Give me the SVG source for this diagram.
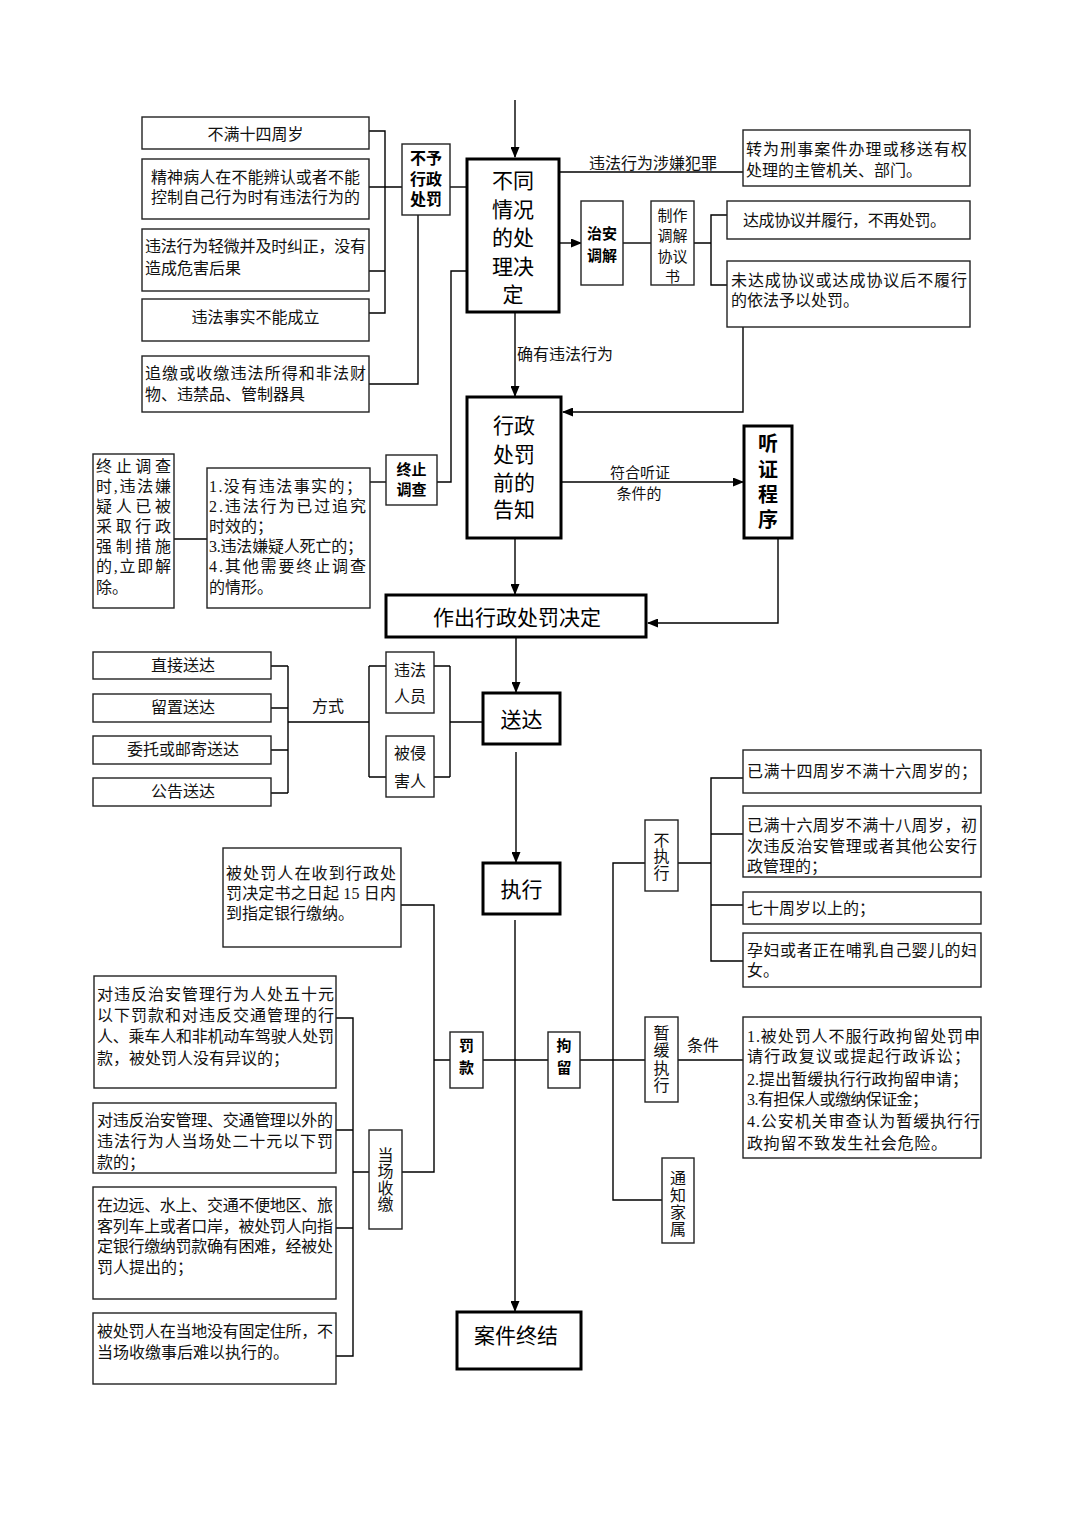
<svg xmlns="http://www.w3.org/2000/svg" width="1074" height="1520" viewBox="0 0 1074 1520">
<defs>
<marker id="ar" markerUnits="userSpaceOnUse" markerWidth="11" markerHeight="9" refX="10" refY="4.5" orient="auto">
<path d="M0,0 L11,4.5 L0,9 z" fill="#000"/>
</marker>
<style>
.bx{fill:#fff;stroke:#222;stroke-width:1.4}
.bk{fill:#fff;stroke:#000;stroke-width:3}
.ln{fill:none;stroke:#000;stroke-width:1.4}
.ar{fill:none;stroke:#000;stroke-width:1.4;marker-end:url(#ar)}
.t{font-family:"Liberation Serif","Noto Sans CJK SC",serif;font-size:16px;fill:#111}
.c{text-anchor:middle}
.b{font-family:"Liberation Sans","Noto Sans CJK SC",sans-serif;font-size:15px;font-weight:bold;fill:#000;text-anchor:middle}
.h{font-family:"Liberation Sans","Noto Sans CJK SC",sans-serif;font-size:21px;fill:#000;text-anchor:middle}
</style>
</defs>
<rect width="1074" height="1520" fill="#fff"/>

<g id="connectors">
<path class="ar" d="M515,100 V157"/>
<path class="ln" d="M369,131 H385 V313 H369 M369,187 H402 M369,271 H385"/>
<path class="ln" d="M450,187 H467"/>
<path class="ln" d="M418,215 V384 H369"/>
<path class="ln" d="M467,271 H451 V482 H437"/>
<path class="ln" d="M370,482 H386"/>
<path class="ln" d="M174,539 H207"/>
<path class="ln" d="M559,172 H743"/>
<path class="ar" d="M559,243 H581"/>
<path class="ln" d="M623,243 H651"/>
<path class="ln" d="M694,243 H711 M727,215 H711 V285 H727"/>
<path class="ar" d="M743,327 V412 H563"/>
<path class="ar" d="M515,312 V396"/>
<path class="ar" d="M561,482 H743"/>
<path class="ar" d="M515,538 V594"/>
<path class="ar" d="M778,538 V623 H648"/>
<path class="ar" d="M516,637 V692"/>
<path class="ln" d="M271,666 H288 M271,708 H288 M271,750 H288 M271,793 H288 M288,666 V793 M288,722 H369 M369,666 V777 M369,666 H386 M369,777 H386 M434,666 H450 M434,777 H450 M450,666 V777 M450,722 H483"/>
<path class="ar" d="M516,752 V862"/>
<path class="ar" d="M515,920 V1311"/>
<path class="ln" d="M401,905 H434 V1172 H402"/>
<path class="ln" d="M434,1060 H450 M483,1060 H548 M580,1060 H645"/>
<path class="ln" d="M336,1018 H353 V1356 H336 M336,1130 H353 M336,1228 H353 M353,1172 H369"/>
<path class="ln" d="M645,863 H613 V1200 H662"/>
<path class="ln" d="M678,863 H711 M743,778 H711 V961 H743 M711,834 H743 M711,905 H743"/>
<path class="ln" d="M678,1060 H743"/>
</g>

<g id="lbl-crime"><text class="t c" x="653" y="169">违法行为涉嫌犯罪</text></g>
<g id="lbl-confirm"><text class="t" x="517" y="360" font-size="15">确有违法行为</text></g>
<g id="lbl-hearing"><text class="t c" x="640" y="478" style="font-size:15px">符合听证</text><text class="t c" x="639" y="499" style="font-size:15px">条件的</text></g>
<g id="lbl-way"><text class="t c" x="328" y="712">方式</text></g>
<g id="lbl-cond"><text class="t c" x="703" y="1051">条件</text></g>

<g id="n-age14"><rect class="bx" x="142" y="117" width="227" height="32"/><text class="t c" x="255.5" y="140">不满十四周岁</text></g>
<g id="n-mental"><rect class="bx" x="142" y="159" width="227" height="60"/><text class="t" x="151" y="183" textLength="209" lengthAdjust="spacing">精神病人在不能辨认或者不能</text><text class="t" x="151" y="203" textLength="209" lengthAdjust="spacing">控制自己行为时有违法行为的</text></g>
<g id="n-minor"><rect class="bx" x="142" y="229" width="227" height="62"/><text class="t" x="145" y="252" textLength="221" lengthAdjust="spacing">违法行为轻微并及时纠正，没有</text><text class="t" x="145" y="274">造成危害后果</text></g>
<g id="n-nofact"><rect class="bx" x="142" y="299" width="227" height="42"/><text class="t c" x="255.5" y="323">违法事实不能成立</text></g>
<g id="n-confiscate"><rect class="bx" x="142" y="356" width="227" height="56"/><text class="t" x="145" y="379" textLength="221" lengthAdjust="spacing">追缴或收缴违法所得和非法财</text><text class="t" x="145" y="400">物、违禁品、管制器具</text></g>
<g id="n-nopunish"><rect class="bx" x="402" y="144" width="48" height="71"/><text class="b" x="426" y="164" style="font-size:16px">不予</text><text class="b" x="426" y="185" style="font-size:16px">行政</text><text class="b" x="426" y="205" style="font-size:16px">处罚</text></g>
<g id="n-decide"><rect class="bk" x="467" y="159" width="92" height="153"/><text class="h" x="513" y="188">不同</text><text class="h" x="513" y="217">情况</text><text class="h" x="513" y="245">的处</text><text class="h" x="513" y="274">理决</text><text class="h" x="513" y="302">定</text></g>
<g id="n-transfer"><rect class="bx" x="743" y="130" width="227" height="56"/><text class="t" x="746" y="155" textLength="221" lengthAdjust="spacing">转为刑事案件办理或移送有权</text><text class="t" x="746" y="176">处理的主管机关、部门。</text></g>
<g id="n-mediate"><rect class="bx" x="581" y="201" width="42" height="84"/><text class="b" x="602" y="239">治安</text><text class="b" x="602" y="261">调解</text></g>
<g id="n-agreement"><rect class="bx" x="651" y="201" width="43" height="84"/><text class="t c" x="672.5" y="221" style="font-size:15px">制作</text><text class="t c" x="672.5" y="241" style="font-size:15px">调解</text><text class="t c" x="672.5" y="262" style="font-size:15px">协议</text><text class="t c" x="672.5" y="282" style="font-size:15px">书</text></g>
<g id="n-agreed"><rect class="bx" x="727" y="201" width="243" height="38"/><text class="t" x="743" y="226" textLength="203" lengthAdjust="spacing">达成协议并履行，不再处罚。</text></g>
<g id="n-notagreed"><rect class="bx" x="727" y="261" width="243" height="66"/><text class="t" x="731" y="286" textLength="236" lengthAdjust="spacing">未达成协议或达成协议后不履行</text><text class="t" x="731" y="306">的依法予以处罚。</text></g>
<g id="n-notice"><rect class="bk" x="467" y="397" width="94" height="141"/><text class="h" x="514" y="433">行政</text><text class="h" x="514" y="462">处罚</text><text class="h" x="514" y="490">前的</text><text class="h" x="514" y="517">告知</text></g>
<g id="n-stop"><rect class="bx" x="386" y="455" width="51" height="50"/><text class="b" x="411.5" y="475">终止</text><text class="b" x="411.5" y="495">调查</text></g>
<g id="n-stopreasons"><rect class="bx" x="207" y="468" width="163" height="140"/><text class="t" x="209" y="492" textLength="153" lengthAdjust="spacing">1.没有违法事实的；</text><text class="t" x="209" y="512" textLength="157" lengthAdjust="spacing">2.违法行为已过追究</text><text class="t" x="209" y="532">时效的；</text><text class="t" x="209" y="552" textLength="154" lengthAdjust="spacing">3.违法嫌疑人死亡的；</text><text class="t" x="209" y="572" textLength="157" lengthAdjust="spacing">4.其他需要终止调查</text><text class="t" x="209" y="593">的情形。</text></g>
<g id="n-release"><rect class="bx" x="93" y="454" width="81" height="154"/><text class="t" x="96" y="472" textLength="75" lengthAdjust="spacing">终止调查</text><text class="t" x="96" y="492" textLength="75" lengthAdjust="spacing">时,违法嫌</text><text class="t" x="96" y="512" textLength="75" lengthAdjust="spacing">疑人已被</text><text class="t" x="96" y="532" textLength="75" lengthAdjust="spacing">采取行政</text><text class="t" x="96" y="552" textLength="75" lengthAdjust="spacing">强制措施</text><text class="t" x="96" y="572" textLength="75" lengthAdjust="spacing">的,立即解</text><text class="t" x="96" y="593">除。</text></g>
<g id="n-hearing"><rect class="bk" x="744" y="426" width="48" height="112"/><text class="b" x="768" y="451" style="font-size:20px">听</text><text class="b" x="768" y="477" style="font-size:20px">证</text><text class="b" x="768" y="502" style="font-size:20px">程</text><text class="b" x="768" y="527" style="font-size:20px">序</text></g>
<g id="n-make"><rect class="bk" x="386" y="595" width="260" height="42"/><text class="h" x="517" y="625">作出行政处罚决定</text></g>
<g id="n-direct"><rect class="bx" x="93" y="652" width="178" height="27"/><text class="t c" x="183" y="671">直接送达</text></g>
<g id="n-leave"><rect class="bx" x="93" y="694" width="178" height="28"/><text class="t c" x="183" y="713">留置送达</text></g>
<g id="n-mail"><rect class="bx" x="93" y="736" width="178" height="28"/><text class="t c" x="183" y="755">委托或邮寄送达</text></g>
<g id="n-public"><rect class="bx" x="93" y="778" width="178" height="28"/><text class="t c" x="183" y="797">公告送达</text></g>
<g id="n-offender"><rect class="bx" x="386" y="652" width="48" height="61"/><text class="t c" x="410" y="676">违法</text><text class="t c" x="410" y="702">人员</text></g>
<g id="n-victim"><rect class="bx" x="386" y="736" width="48" height="61"/><text class="t c" x="410" y="759">被侵</text><text class="t c" x="410" y="787">害人</text></g>
<g id="n-deliver"><rect class="bk" x="483" y="693" width="77" height="51"/><text class="h" x="521.5" y="727">送达</text></g>
<g id="n-execute"><rect class="bk" x="483" y="863" width="77" height="51"/><text class="h" x="521.5" y="897">执行</text></g>
<g id="n-bank"><rect class="bx" x="223" y="848" width="178" height="99"/><text class="t" x="226" y="879" textLength="170" lengthAdjust="spacing">被处罚人在收到行政处</text><text class="t" x="226" y="899" textLength="170" lengthAdjust="spacing">罚决定书之日起 15 日内</text><text class="t" x="226" y="919">到指定银行缴纳。</text></g>
<g id="n-fine"><rect class="bx" x="450" y="1032" width="33" height="56"/><text class="b" x="466.5" y="1051">罚</text><text class="b" x="466.5" y="1073">款</text></g>
<g id="n-detain"><rect class="bx" x="548" y="1032" width="32" height="56"/><text class="b" x="564" y="1051">拘</text><text class="b" x="564" y="1073">留</text></g>
<g id="n-f1"><rect class="bx" x="94" y="976" width="242" height="112"/><text class="t" x="97" y="1000" textLength="237" lengthAdjust="spacing">对违反治安管理行为人处五十元</text><text class="t" x="97" y="1021" textLength="237" lengthAdjust="spacing">以下罚款和对违反交通管理的行</text><text class="t" x="97" y="1042" textLength="237" lengthAdjust="spacing">人、乘车人和非机动车驾驶人处罚</text><text class="t" x="97" y="1064">款，被处罚人没有异议的；</text></g>
<g id="n-f2"><rect class="bx" x="93" y="1103" width="243" height="70"/><text class="t" x="97" y="1126" textLength="236" lengthAdjust="spacing">对违反治安管理、交通管理以外的</text><text class="t" x="97" y="1147" textLength="236" lengthAdjust="spacing">违法行为人当场处二十元以下罚</text><text class="t" x="97" y="1168">款的；</text></g>
<g id="n-f3"><rect class="bx" x="93" y="1187" width="243" height="112"/><text class="t" x="97" y="1211" textLength="236" lengthAdjust="spacing">在边远、水上、交通不便地区、旅</text><text class="t" x="97" y="1232" textLength="236" lengthAdjust="spacing">客列车上或者口岸，被处罚人向指</text><text class="t" x="97" y="1252" textLength="236" lengthAdjust="spacing">定银行缴纳罚款确有困难，经被处</text><text class="t" x="97" y="1273">罚人提出的；</text></g>
<g id="n-f4"><rect class="bx" x="93" y="1313" width="243" height="71"/><text class="t" x="97" y="1337" textLength="236" lengthAdjust="spacing">被处罚人在当地没有固定住所，不</text><text class="t" x="97" y="1358">当场收缴事后难以执行的。</text></g>
<g id="n-onsite"><rect class="bx" x="369" y="1130" width="33" height="99"/><text class="t c" x="385.5" y="1161">当</text><text class="t c" x="385.5" y="1177">场</text><text class="t c" x="385.5" y="1194">收</text><text class="t c" x="385.5" y="1210">缴</text></g>
<g id="n-end"><rect class="bk" x="457" y="1312" width="124" height="57"/><text class="h" x="516" y="1343">案件终结</text></g>
<g id="n-noexec"><rect class="bx" x="645" y="820" width="33" height="71"/><text class="t c" x="661.5" y="846">不</text><text class="t c" x="661.5" y="862">执</text><text class="t c" x="661.5" y="879">行</text></g>
<g id="n-e1"><rect class="bx" x="743" y="750" width="238" height="43"/><text class="t" x="747" y="777" textLength="230" lengthAdjust="spacing">已满十四周岁不满十六周岁的；</text></g>
<g id="n-e2"><rect class="bx" x="743" y="806" width="238" height="71"/><text class="t" x="747" y="831" textLength="230" lengthAdjust="spacing">已满十六周岁不满十八周岁，初</text><text class="t" x="747" y="852" textLength="230" lengthAdjust="spacing">次违反治安管理或者其他公安行</text><text class="t" x="747" y="872">政管理的；</text></g>
<g id="n-e3"><rect class="bx" x="743" y="892" width="238" height="32"/><text class="t" x="747" y="914">七十周岁以上的；</text></g>
<g id="n-e4"><rect class="bx" x="743" y="933" width="238" height="54"/><text class="t" x="747" y="956" textLength="230" lengthAdjust="spacing">孕妇或者正在哺乳自己婴儿的妇</text><text class="t" x="747" y="976">女。</text></g>
<g id="n-suspend"><rect class="bx" x="645" y="1017" width="33" height="85"/><text class="t c" x="661.5" y="1039">暂</text><text class="t c" x="661.5" y="1056">缓</text><text class="t c" x="661.5" y="1074">执</text><text class="t c" x="661.5" y="1091">行</text></g>
<g id="n-conds"><rect class="bx" x="743" y="1017" width="238" height="141"/><text class="t" x="747" y="1042" textLength="233" lengthAdjust="spacing">1.被处罚人不服行政拘留处罚申</text><text class="t" x="747" y="1062" textLength="223" lengthAdjust="spacing">请行政复议或提起行政诉讼；</text><text class="t" x="747" y="1085" textLength="221" lengthAdjust="spacing">2.提出暂缓执行行政拘留申请；</text><text class="t" x="747" y="1105" textLength="181" lengthAdjust="spacing">3.有担保人或缴纳保证金；</text><text class="t" x="747" y="1127" textLength="233" lengthAdjust="spacing">4.公安机关审查认为暂缓执行行</text><text class="t" x="747" y="1149" textLength="200" lengthAdjust="spacing">政拘留不致发生社会危险。</text></g>
<g id="n-family"><rect class="bx" x="662" y="1158" width="32" height="85"/><text class="t c" x="678" y="1184">通</text><text class="t c" x="678" y="1201">知</text><text class="t c" x="678" y="1218">家</text><text class="t c" x="678" y="1235">属</text></g>
</svg>
